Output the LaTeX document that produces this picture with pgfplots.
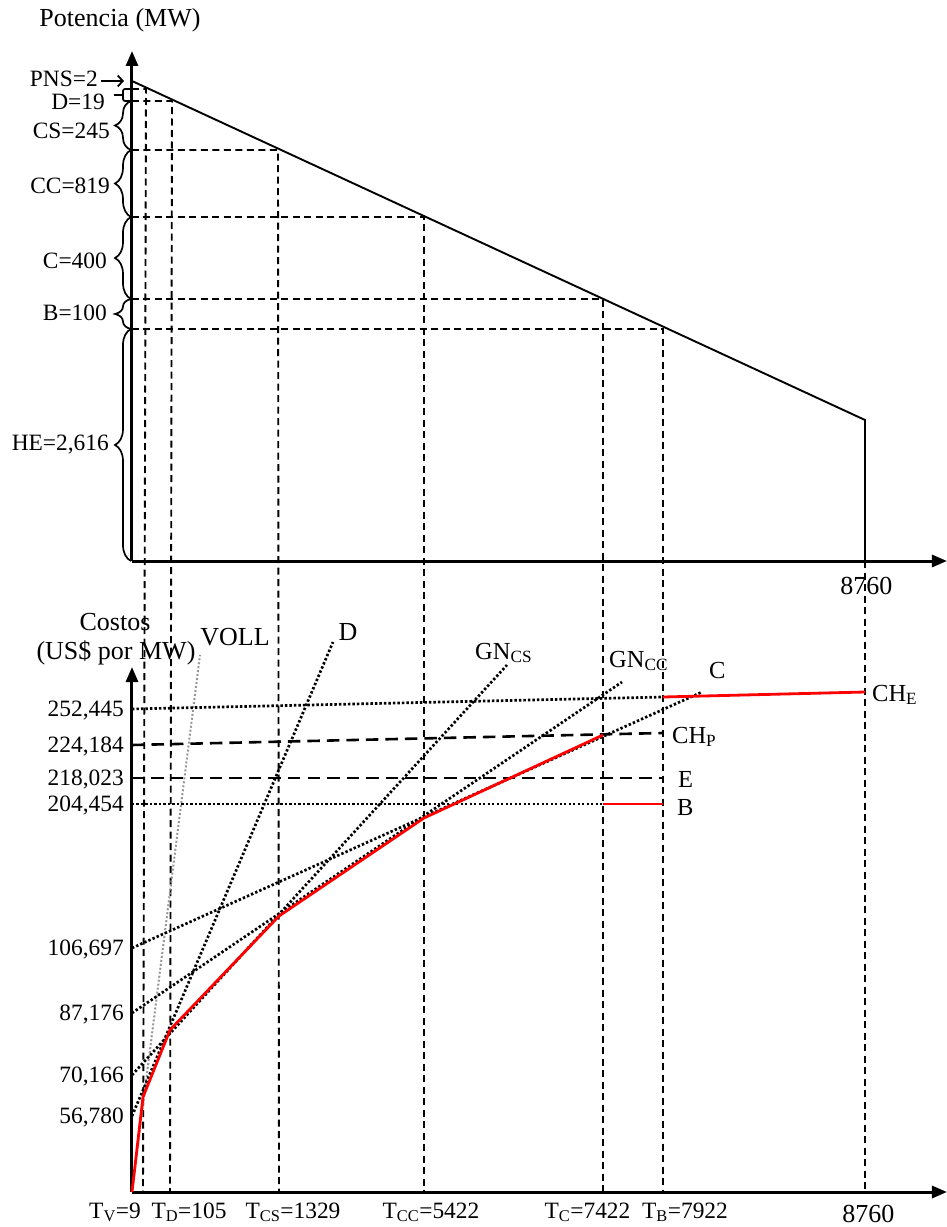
\documentclass[border=0pt]{standalone}
\usepackage{fontspec}
\setmainfont{Liberation Serif}
\usepackage{pgfplots}
\pgfplotsset{compat=1.18}
\usetikzlibrary{arrows.meta,decorations.pathreplacing}
\newcommand{\fbig}{\fontsize{26bp}{30bp}\selectfont}
\newcommand{\fmid}{\fontsize{24.5bp}{28bp}\selectfont}
\newcommand{\fsmall}{\fontsize{23.4bp}{27bp}\selectfont}
\definecolor{voll}{RGB}{150,150,150}
\tikzset{brc/.style={line width=1.7bp, decorate, decoration={brace, amplitude=16bp}}}
\pgfplotsset{
  myax/.style={x=1bp,y=1bp,xmin=0,xmax=815,ymin=0,axis lines=left,
    axis line style={line width=3bp,-{Triangle[length=15bp,width=12bp]}},
    xtick=\empty, ytick=\empty, clip=false, anchor=origin},
  dashtop/.style={line width=1.9bp, dash pattern=on 7bp off 4.5bp},
  dotl/.style={line width=2.7bp, dash pattern=on 2.4bp off 2.1bp},
  dashb/.style={line width=2.6bp, dash pattern=on 12.5bp off 7bp},
  redl/.style={line width=2.8bp, red},
}
\begin{document}
\begin{tikzpicture}
\useasboundingbox (-132bp,-666bp) rectangle (815bp,561bp);
% ---------------- top panel ----------------
\begin{axis}[myax, at={(0,0)}, ymax=510]
\addplot[line width=1.9bp] coordinates {(0,480) (733,141) (733,0)};
\addplot[dashtop] coordinates {(0,472) (14,472) (11,-631)};
\addplot[dashtop] coordinates {(0,460) (40,460) (38,-631)};
\addplot[dashtop] coordinates {(0,411) (146,411) (147,-631)};
\addplot[dashtop] coordinates {(0,344) (292,344) (292,-631)};
\addplot[dashtop] coordinates {(0,262) (471,262) (471,-631)};
\addplot[dashtop] coordinates {(0,232) (531,232) (531,-631)};
\addplot[dashtop] coordinates {(733,0) (733,-631)};
% braces
\draw[brc] (axis cs:-1,411) -- (axis cs:-1,460);
\draw[brc] (axis cs:-1,344) -- (axis cs:-1,411);
\draw[brc] (axis cs:-1,262) -- (axis cs:-1,344);
\draw[brc] (axis cs:-1,232) -- (axis cs:-1,262);
\draw[brc] (axis cs:-1,0) -- (axis cs:-1,232);
\draw[line width=1.7bp, rounded corners=2bp] (axis cs:0,472) -- (axis cs:-9,472) -- (axis cs:-9,460) -- (axis cs:0,460);
\draw[line width=1.7bp] (axis cs:-9,466) -- (axis cs:-18,466);
\draw[line width=1.8bp, -{Straight Barb[length=5bp,width=11bp]}] (axis cs:-31,480) -- (axis cs:-8,480);
% labels
\node[font=\fsmall, anchor=east, inner sep=0pt] at (axis cs:-34,482) {PNS=2};
\node[font=\fsmall, anchor=east, inner sep=0pt] at (axis cs:-27,459.5) {D=19};
\node[font=\fsmall, anchor=east, inner sep=0pt] at (axis cs:-22,430) {CS=245};
\node[font=\fsmall, anchor=east, inner sep=0pt] at (axis cs:-22,375) {CC=819};
\node[font=\fsmall, anchor=east, inner sep=0pt] at (axis cs:-25,300) {C=400};
\node[font=\fsmall, anchor=east, inner sep=0pt] at (axis cs:-25,248) {B=100};
\node[font=\fsmall, anchor=east, inner sep=0pt] at (axis cs:-23,116) {HE=2,616};
\node[font=\fbig, anchor=base, inner sep=0pt] at (axis cs:-12,534) {Potencia (MW)};
\node[font=\fbig, anchor=base, inner sep=0pt] at (axis cs:734.5,-33) {8760};
\end{axis}
% ---------------- bottom panel ----------------
\begin{axis}[myax, at={(0,-631bp)}, ymax=525,
  ytick={76,117,179,244,388,414,447,483},
  yticklabels={{56,780},{70,166},{87,176},{106,697},{204,454},{218,023},{224,184},{252,445}},
  major tick length=0pt,
  yticklabel style={font=\fsmall, inner sep=0pt, xshift=-8bp, yshift=-2bp}]
\addplot[color=voll, line width=2bp, dash pattern=on 2bp off 2bp] coordinates {(0,0) (68,537)};
\addplot[dotl] coordinates {(0,76) (201,550)};
\addplot[dotl] coordinates {(0,117) (375,527)};
\addplot[dotl] coordinates {(0,179) (490,510)};
\addplot[dotl] coordinates {(0,244) (570,500)};
\addplot[dotl] coordinates {(0,483) (531,495)};
\addplot[redl] coordinates {(531,495) (733,500)};
\addplot[dashb] coordinates {(0,447) (531,459)};
\addplot[dashb] coordinates {(0,414) (531,414)};
\addplot[dotl] coordinates {(0,388) (471,388)};
\addplot[redl] coordinates {(471,388) (531,388)};
\addplot[redl] coordinates {(0,0) (11,95) (38,162) (147,276) (292,374) (471,457)};
% labels
\node[font=\fbig, inner sep=0pt] at (axis cs:-17,570) {Costos};
\node[font=\fbig, inner sep=0pt] at (axis cs:-16,539) {(US\$ por MW)};
\node[font=\fbig, inner sep=0pt] at (axis cs:103,555) {VOLL};
\node[font=\fbig, inner sep=0pt] at (axis cs:216,560) {D};
\node[font=\fmid, anchor=base west, inner sep=0pt] at (axis cs:343,533) {GN\textsubscript{CS}};
\node[font=\fmid, anchor=base west, inner sep=0pt] at (axis cs:477,525) {GN\textsubscript{CC}};
\node[font=\fmid, anchor=base west, inner sep=0pt] at (axis cs:577,514) {C};
\node[font=\fmid, anchor=base west, inner sep=0pt] at (axis cs:740,491) {CH\textsubscript{E}};
\node[font=\fmid, anchor=base west, inner sep=0pt] at (axis cs:540,449) {CH\textsubscript{P}};
\node[font=\fmid, anchor=base west, inner sep=0pt] at (axis cs:546,405) {E};
\node[font=\fmid, anchor=base west, inner sep=0pt] at (axis cs:545,377) {B};
\node[font=\fsmall, anchor=base, inner sep=0pt] at (axis cs:-17,-26) {T\textsubscript{V}=9};
\node[font=\fsmall, anchor=base, inner sep=0pt] at (axis cs:57,-26) {T\textsubscript{D}=105};
\node[font=\fsmall, anchor=base, inner sep=0pt] at (axis cs:161,-26) {T\textsubscript{CS}=1329};
\node[font=\fsmall, anchor=base, inner sep=0pt] at (axis cs:299,-26) {T\textsubscript{CC}=5422};
\node[font=\fsmall, anchor=base, inner sep=0pt] at (axis cs:455.5,-26) {T\textsubscript{C}=7422};
\node[font=\fsmall, anchor=base, inner sep=0pt] at (axis cs:553,-26) {T\textsubscript{B}=7922};
\node[font=\fbig, anchor=base, inner sep=0pt] at (axis cs:736.5,-30) {8760};
\end{axis}
\end{tikzpicture}
\end{document}
